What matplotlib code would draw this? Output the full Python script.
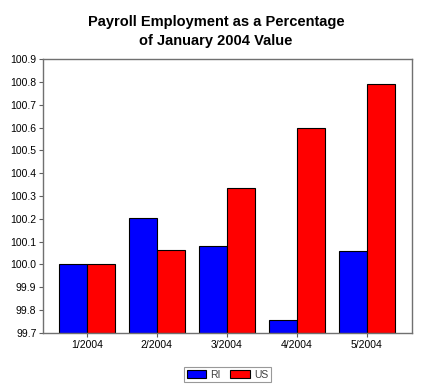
import numpy as np
import matplotlib.pyplot as plt

plt.rcParams['font.family'] = ['Liberation Sans', 'DejaVu Sans']

# Data
months = ["1/2004", "2/2004", "3/2004", "4/2004", "5/2004"]
ri = [100.0, 100.205, 100.082, 99.756, 100.06]
us = [100.0, 100.063, 100.334, 100.599, 100.793]
y_ticks = np.round(np.arange(99.7, 100.91, 0.1), 1)

base = 99.7
x = np.arange(len(months))
w = 0.4

fig = plt.figure(figsize=(4.32, 3.86), dpi=100)
ax = fig.add_axes([0.1003, 0.138, 0.8527, 0.7084])

ax.bar(x - w / 2, np.array(ri) - base, w, bottom=base, color="#0000ff",
       edgecolor="black", linewidth=0.8, label="RI")
ax.bar(x + w / 2, np.array(us) - base, w, bottom=base, color="#ff0000",
       edgecolor="black", linewidth=0.8, label="US")

ax.set_xlim(-0.62, 4.64)
ax.set_ylim(99.7, 100.9)
ax.set_yticks(y_ticks)
ax.set_yticklabels([f"{v:.1f}" for v in y_ticks])
ax.set_xticks(x)
ax.set_xticklabels(months)
ax.tick_params(axis="both", labelsize=7.5, length=3, width=0.8, color="#606060", pad=2)

for s in ax.spines.values():
    s.set_color("#707070")
    s.set_linewidth(1.0)

fig.suptitle("Payroll Employment as a Percentage\nof January 2004 Value",
             fontsize=10.5, fontweight="bold", y=0.962, linespacing=1.5)

leg = ax.legend(loc="upper center", bbox_to_anchor=(0.5, -0.125), ncol=2,
                fontsize=7.5, frameon=True, fancybox=False, edgecolor="#808080",
                handlelength=1.9, handleheight=0.9, columnspacing=0.9,
                borderpad=0.25, handletextpad=0.4, borderaxespad=0)
leg.get_frame().set_linewidth(0.8)
for t in leg.get_texts():
    t.set_color("#404040")

fig.savefig("out.png", dpi=100)
